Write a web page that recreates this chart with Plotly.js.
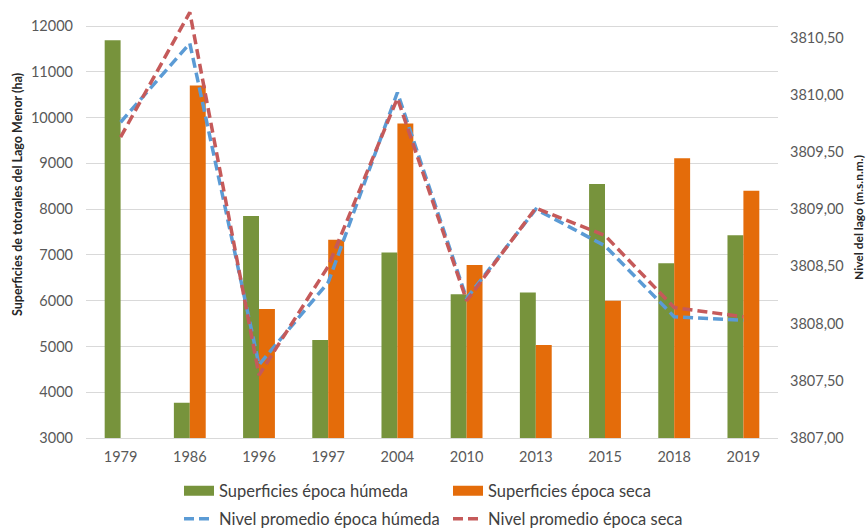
<!DOCTYPE html>
<html>
<head>
<meta charset="utf-8">
<script src="https://cdn.plot.ly/plotly-3.0.1.min.js"></script>
<style>html,body{margin:0;padding:0;background:#fff;}#chart{width:866px;height:528px;}</style>
</head>
<body>
<div id="chart"></div>
<script>
// Data
var years = ['1979','1986','1996','1997','2004','2010','2013','2015','2018','2019'];
var supHumeda = [11690, 3770, 7850, 5140, 7050, 6140, 6180, 8550, 6815, 7430];
var supSeca   = [null, 10700, 5820, 7330, 9870, 6780, 5030, 6000, 9110, 8400];
var nivelHumeda = [3809.76, 3810.45, 3807.64, 3808.36, 3810.02, 3808.22, 3809.00, 3808.68, 3808.06, 3808.03];
var nivelSeca   = [3809.63, 3810.72, 3807.55, 3808.50, 3809.97, 3808.20, 3809.01, 3808.77, 3808.14, 3808.06];
var leftTicks = [3000,4000,5000,6000,7000,8000,9000,10000,11000,12000];
var names = ['Superficies época húmeda','Superficies época seca','Nivel promedio época húmeda','Nivel promedio época seca'];

var GREEN = '#77933C', ORANGE = '#E46C0A', BLUE = '#5B9BD5', RED = '#C55A5A';
var FONT = 'Lato, "Open Sans", sans-serif';

var traces = [
  {type:'bar', x:years, y:supHumeda, marker:{color:GREEN}, showlegend:false, name:names[0]},
  {type:'bar', x:years, y:supSeca, marker:{color:ORANGE}, showlegend:false, name:names[1]},
  {type:'scatter', mode:'lines', x:years, y:nivelHumeda, yaxis:'y2', name:names[2],
   line:{color:BLUE, width:3.5, dash:'10px,5px'}, legend:'legend2'},
  {type:'scatter', mode:'lines', x:years, y:nivelSeca, yaxis:'y2', name:names[3],
   line:{color:RED, width:3.5, dash:'10px,5px'}, legend:'legend2'},
  // legend swatches for the bar series
  {type:'scatter', mode:'lines', x:[null], y:[null], name:names[0], line:{color:GREEN, width:10}, legend:'legend', hoverinfo:'skip'},
  {type:'scatter', mode:'lines', x:[null], y:[null], name:names[1], line:{color:ORANGE, width:10}, legend:'legend', hoverinfo:'skip'}
];

var legendCommon = {
  orientation:'h', xref:'container', yref:'container', xanchor:'left', yanchor:'middle',
  entrywidth:224, entrywidthmode:'pixels', font:{family:FONT, size:16.5, color:'#404040'},
  bgcolor:'rgba(0,0,0,0)', itemclick:false, itemdoubleclick:false, traceorder:'normal'
};

var layout = {
  width:866, height:528,
  margin:{l:86, r:88, t:10, b:90},
  paper_bgcolor:'#fff', plot_bgcolor:'#fff',
  separators:',.',
  font:{family:FONT, size:14, color:'#595959'},
  barmode:'group', bargap:0.54, bargroupgap:0,
  xaxis:{type:'category', showgrid:false, showline:true, linecolor:'#D9D9D9', linewidth:1,
         ticks:'', tickfont:{family:FONT, size:14.5, color:'#595959'}, ticklabelstandoff:6, fixedrange:true},
  yaxis:{range:[3000, 12349.5], tickvals:leftTicks, tickformat:'d', showgrid:true, gridcolor:'#D9D9D9', gridwidth:1,
         zeroline:false, showline:false, ticks:'', ticklabelstandoff:12,
         tickfont:{family:FONT, size:14.5, color:'#595959'}, fixedrange:true},
  yaxis2:{overlaying:'y', side:'right', range:[3807, 3810.741], tick0:3807, dtick:0.5, tickformat:'.2f',
          showgrid:false, zeroline:false, showline:false, ticks:'', ticklabelstandoff:11,
          tickfont:{family:FONT, size:14.5, color:'#595959'}, fixedrange:true},
  legend: Object.assign({}, legendCommon, {x:179/866, y:1-491/528}),
  legend2: Object.assign({}, legendCommon, {x:179/866, y:1-519/528}),
  annotations:[
    {text:'Superficies de totorales del Lago Menor (ha)', xref:'paper', yref:'paper',
     x:(18-86)/692, y:(438-195)/428, textangle:-90, showarrow:false, xanchor:'center', yanchor:'middle',
     font:{family:FONT, size:12.5, color:'#262626', weight:'bold'}},
    {text:'Nivel del lago (m.s.n.m.)', xref:'paper', yref:'paper',
     x:(858-86)/692, y:(438-218)/428, textangle:-90, showarrow:false, xanchor:'center', yanchor:'middle',
     font:{family:FONT, size:12, color:'#262626', weight:'bold'}}
  ]
};

Plotly.newPlot('chart', traces, layout, {displayModeBar:false, staticPlot:true});
</script>
</body>
</html>
